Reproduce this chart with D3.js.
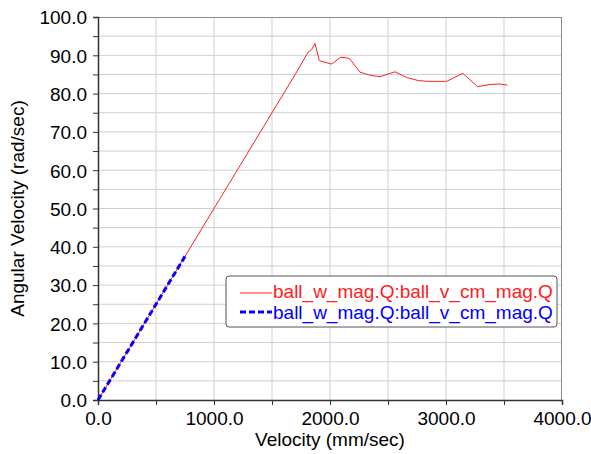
<!DOCTYPE html>
<html>
<head>
<meta charset="utf-8">
<script src="https://cdn.jsdelivr.net/npm/d3@7"></script>
<style>
  body { margin: 0; background: #fff; }
  text { font-family: Arial, "Liberation Sans", sans-serif; }
</style>
</head>
<body>
<div id="chart"></div>
<script>
// chart size and margins
var svgWidth = 591;
var svgHeight = 454;
var margin = { top: 17, right: 29, bottom: 54, left: 98 };
var width = svgWidth - margin.left - margin.right;
var height = svgHeight - margin.top - margin.bottom;
var fontSize = "19px";

// red series: ball_w_mag.Q vs ball_v_cm_mag.Q
var redV = [0, 500, 1000, 1500, 1700, 1813, 1842, 1871, 1908, 2014, 2092, 2167, 2259, 2345, 2431,
  2560, 2661, 2761, 2847, 3006, 3144, 3273, 3379, 3466, 3529];
var redW = [0, 25, 50, 75, 85, 90.9, 91.5, 93.1, 88.6, 87.7, 89.5, 89.2, 85.6, 84.8, 84.4,
  85.7, 84.2, 83.4, 83.2, 83.2, 85.3, 81.8, 82.4, 82.5, 82.2];

// blue series (dashed)
var blueV = [0, 250, 500, 750];
var blueW = [0, 12.5, 25, 37.5];

var seriesName = "ball_w_mag.Q:ball_v_cm_mag.Q";
var xTicks = [0, 1000, 2000, 3000, 4000];
var yTicks = [0, 10, 20, 30, 40, 50, 60, 70, 80, 90, 100];

var svg = d3.select("#chart").append("svg")
  .attr("width", svgWidth)
  .attr("height", svgHeight);

var chartGroup = svg.append("g")
  .attr("transform", `translate(${margin.left}, ${margin.top})`);

var x = d3.scaleLinear().domain([0, 4000]).range([0, width]);
var y = d3.scaleLinear().domain([0, 100]).range([height, 0]);

// grid lines every 500 / every 5
chartGroup.append("g")
  .selectAll("line")
  .data(d3.range(500, 4000, 500))
  .enter().append("line")
  .attr("x1", d => x(d)).attr("x2", d => x(d))
  .attr("y1", 0).attr("y2", height)
  .attr("stroke", "#cfcfcf");

chartGroup.append("g")
  .selectAll("line")
  .data(d3.range(5, 100, 5))
  .enter().append("line")
  .attr("x1", 0).attr("x2", width)
  .attr("y1", d => y(d)).attr("y2", d => y(d))
  .attr("stroke", "#cfcfcf");

// top and right frame
chartGroup.append("line")
  .attr("x1", 0).attr("x2", width).attr("y1", 0.5).attr("y2", 0.5)
  .attr("stroke", "#8a8a8a");
chartGroup.append("line")
  .attr("x1", width - 0.5).attr("x2", width - 0.5).attr("y1", 0).attr("y2", height)
  .attr("stroke", "#8a8a8a");

// axes
var bottomAxis = d3.axisBottom(x)
  .tickValues(d3.range(0, 4001, 500))
  .tickSize(5)
  .tickFormat(d => xTicks.includes(d) ? d3.format(".1f")(d) : "");
var leftAxis = d3.axisLeft(y)
  .tickValues(d3.range(0, 101, 5))
  .tickSize(5)
  .tickFormat(d => yTicks.includes(d) ? d3.format(".1f")(d) : "");

var xAxis = chartGroup.append("g")
  .attr("transform", `translate(0, ${height})`)
  .call(bottomAxis);
var yAxis = chartGroup.append("g")
  .call(leftAxis);

[xAxis, yAxis].forEach(function(ax) {
  ax.select(".domain").attr("stroke", "#333").attr("stroke-width", 1.5);
  ax.selectAll(".tick line").attr("stroke", "#333");
  ax.selectAll("text")
    .attr("fill", "#000")
    .style("font-size", fontSize)
    .style("font-family", "Arial, 'Liberation Sans', sans-serif");
});
xAxis.selectAll("text").attr("dy", null).attr("y", 25);
yAxis.selectAll("text").attr("x", -11).attr("dy", "0.36em");

// lines
var line = d3.line()
  .x(d => x(d[0]))
  .y(d => y(d[1]));

chartGroup.append("path")
  .datum(redV.map((v, i) => [v, redW[i]]))
  .attr("d", line)
  .attr("fill", "none")
  .attr("stroke", "#ff2020")
  .attr("stroke-width", 1);

chartGroup.append("path")
  .datum(blueV.map((v, i) => [v, blueW[i]]))
  .attr("d", line)
  .attr("fill", "none")
  .attr("stroke", "#0000ff")
  .attr("stroke-width", 3)
  .attr("stroke-dasharray", "6,3");

// axis titles
svg.append("text")
  .attr("x", margin.left + width / 2)
  .attr("y", 446)
  .attr("text-anchor", "middle")
  .style("font-size", fontSize)
  .text("Velocity (mm/sec)");

svg.append("text")
  .attr("transform", `translate(24, ${margin.top + height / 2}) rotate(-90)`)
  .attr("text-anchor", "middle")
  .style("font-size", fontSize)
  .text("Angular Velocity (rad/sec)");

// legend
var legend = svg.append("g").attr("transform", "translate(226, 276)");
legend.append("rect")
  .attr("width", 331).attr("height", 51)
  .attr("rx", 3)
  .attr("fill", "#fff")
  .attr("stroke", "#555");

var legendItems = [
  { color: "#ff2020", width: 1, dash: null, y: 17 },
  { color: "#0000ff", width: 3, dash: "6,3", y: 36 }
];
legendItems.forEach(function(item, i) {
  legend.append("line")
    .attr("x1", 14).attr("x2", 46)
    .attr("y1", item.y).attr("y2", item.y)
    .attr("stroke", item.color)
    .attr("stroke-width", item.width)
    .attr("stroke-dasharray", item.dash);
  legend.append("text")
    .attr("x", 47).attr("y", 22 + i * 21)
    .attr("fill", item.color)
    .style("font-size", fontSize)
    .text(seriesName);
});
</script>
</body>
</html>
